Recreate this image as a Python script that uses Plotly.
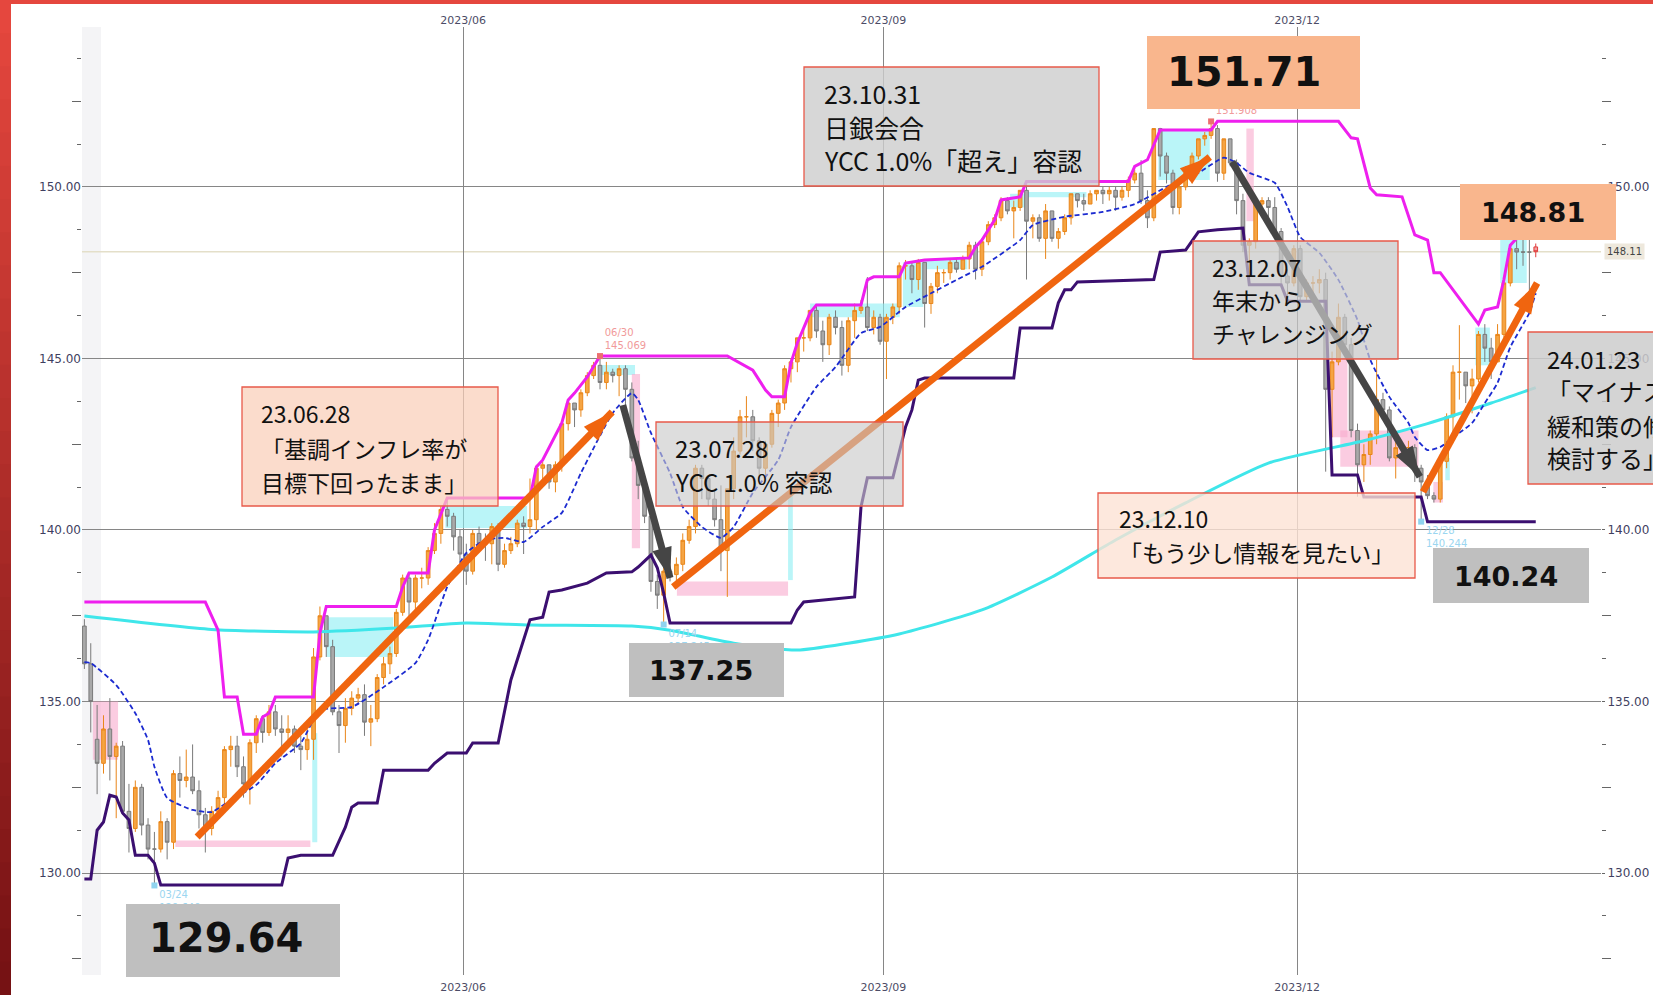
import pandas as pd
import plotly.graph_objects as go

# ======================= DATA =======================
dates = pd.bdate_range("2023-03-09", "2024-01-23").strftime("%Y-%m-%d").tolist()

opens = [
    # 2023-03
    137.20, 136.10, 133.90, 133.20, 134.20, 133.40, 133.70, 131.80, 131.30, 132.50, 131.40, 130.70, 130.70, 131.50, 130.90, 132.90, 132.70,
    # 2023-04
    132.80, 132.40, 131.70, 131.30, 131.80, 132.20, 133.60, 133.70, 133.10, 132.60, 133.80, 134.50, 134.10, 134.70, 134.20, 134.10, 134.20, 133.70, 133.60, 133.90,
    # 2023-05
    136.30, 137.50, 136.60, 134.70, 134.30, 134.80, 135.10, 135.20, 134.40, 134.50, 135.70, 136.10, 136.40, 137.60, 138.60, 137.90, 138.60, 138.60, 139.40, 139.90, 140.60, 140.40, 139.80,
    # 2023-06
    139.30, 138.80, 139.90, 139.60, 139.60, 140.10, 139.00, 139.40, 139.60, 140.20, 140.10, 140.30, 141.80, 141.90, 141.40, 141.90, 143.10, 143.70, 143.50, 144.00, 144.50, 144.80,
    # 2023-07
    144.30, 144.60, 144.50, 144.70, 144.10, 142.10, 141.30, 140.40, 138.50, 138.10, 138.80, 138.70, 139.00, 139.70, 140.10, 141.80, 141.50, 140.90, 140.30, 139.40, 141.20,
    # 2023-08
    142.30, 143.30, 143.30, 142.60, 141.80, 142.50, 143.40, 143.70, 144.70, 144.90, 145.60, 145.60, 146.40, 145.80, 145.40, 146.20, 145.90, 144.80, 146.10, 146.40, 146.50, 145.90, 146.20,
    # 2023-09
    145.50, 146.20, 146.50, 147.70, 147.70, 147.30, 147.80, 146.60, 147.10, 147.50, 147.50, 147.80, 147.60, 147.90, 148.30, 147.60, 148.40, 148.90, 149.10, 149.60, 149.30,
    # 2023-10
    149.40, 149.90, 149.00, 149.10, 148.50, 149.30, 148.50, 148.70, 149.10, 149.80, 149.60, 149.50, 149.80, 149.90, 149.80, 149.90, 149.70, 149.90, 150.20, 150.40, 149.60, 149.10,
    # 2023-11
    151.70, 150.90, 150.40, 149.40, 150.00, 150.40, 150.90, 151.40, 151.50, 151.70, 150.40, 151.40, 150.70, 149.60, 148.30, 148.40, 149.50, 149.60, 149.40, 148.70, 147.40, 147.20,
    # 2023-12
    148.20, 146.80, 147.20, 147.20, 147.30, 144.10, 144.90, 146.20, 145.40, 142.90, 141.90, 142.20, 142.80, 143.80, 143.50, 142.10, 142.40, 142.40, 142.40, 141.80, 141.40,
    # 2024-01
    141.00, 140.90, 142.00, 143.30, 144.60, 144.60, 144.20, 144.40, 145.70, 145.30, 144.90, 145.70, 147.20, 148.20, 148.10, 148.10, 148.25,
]
highs = [
    137.40, 136.70, 134.90, 134.60, 135.10, 133.80, 133.85, 132.60, 132.70, 132.60, 131.60, 131.20, 131.80, 131.60, 133.00, 133.40, 133.60,
    133.75, 132.70, 131.90, 131.95, 132.40, 133.70, 134.00, 134.00, 133.40, 133.90, 134.60, 134.60, 134.90, 134.90, 134.60, 134.60, 134.30, 134.00, 134.20, 136.56,
    137.77, 137.50, 136.80, 134.90, 135.10, 135.30, 135.40, 135.50, 134.90, 135.80, 136.30, 136.60, 137.70, 138.70, 138.75, 138.70, 138.90, 139.50, 140.20, 140.70, 140.93, 140.50, 140.00,
    139.60, 140.00, 140.10, 139.90, 140.20, 140.20, 139.60, 139.80, 140.30, 140.40, 141.50, 141.90, 142.00, 141.90, 142.00, 143.20, 143.80, 143.70, 144.10, 144.60, 144.90, 145.07,
    144.90, 144.70, 144.80, 144.80, 144.30, 142.60, 141.40, 140.50, 138.70, 139.00, 139.40, 139.20, 139.90, 140.30, 141.90, 141.90, 141.60, 141.20, 141.30, 141.20, 142.70,
    143.50, 143.90, 143.50, 142.70, 142.60, 143.50, 143.80, 144.80, 145.00, 145.60, 145.90, 146.40, 146.56, 146.10, 146.30, 146.40, 146.10, 146.20, 146.60, 146.70, 147.37, 146.40, 146.30,
    146.30, 146.60, 147.80, 147.87, 147.80, 147.90, 147.80, 147.20, 147.70, 147.60, 147.90, 147.90, 148.00, 148.40, 148.40, 148.50, 149.00, 149.20, 149.70, 149.70, 149.60,
    149.90, 150.16, 149.20, 149.20, 149.50, 149.30, 148.80, 149.20, 149.80, 149.80, 149.80, 149.90, 149.90, 150.00, 150.00, 150.00, 150.00, 150.30, 150.50, 150.78, 149.90, 151.70,
    151.72, 151.00, 150.50, 150.20, 150.60, 151.00, 151.40, 151.60, 151.91, 151.80, 151.40, 151.40, 150.80, 149.80, 148.50, 149.70, 149.70, 149.70, 149.70, 148.80, 147.60, 148.30,
    148.30, 147.30, 147.40, 147.60, 147.50, 145.20, 146.60, 146.30, 145.60, 143.10, 142.50, 142.90, 144.96, 144.00, 143.60, 142.80, 142.50, 142.60, 142.50, 141.90, 141.60,
    141.10, 142.20, 143.40, 144.80, 145.97, 144.60, 144.70, 145.80, 146.00, 145.60, 146.00, 147.30, 148.30, 148.50, 148.81, 148.70, 148.35,
]
lows = [
    135.95, 134.10, 132.30, 132.90, 132.70, 131.60, 131.70, 130.60, 131.20, 131.10, 130.40, 129.64, 130.60, 130.40, 130.70, 132.20, 132.50,
    132.30, 131.30, 130.60, 131.10, 131.60, 131.90, 133.10, 132.80, 132.20, 132.00, 133.50, 133.80, 134.00, 134.00, 133.40, 133.80, 133.50, 133.00, 133.30, 133.30,
    136.20, 136.30, 134.60, 133.50, 133.80, 134.60, 134.90, 134.00, 133.70, 134.40, 135.50, 135.80, 136.30, 137.50, 137.40, 137.70, 138.30, 138.40, 139.30, 139.60, 140.10, 139.40, 138.80,
    138.40, 138.70, 139.40, 139.10, 139.00, 138.80, 138.90, 139.30, 139.50, 139.30, 139.90, 140.00, 141.30, 141.20, 141.10, 141.70, 142.90, 143.00, 143.30, 143.90, 144.40, 144.10,
    144.10, 144.30, 143.90, 143.60, 142.00, 140.90, 140.20, 138.20, 137.70, 137.25, 138.50, 138.40, 138.80, 139.60, 139.90, 140.90, 140.70, 140.10, 138.80, 138.05, 140.90,
    142.20, 142.70, 142.30, 141.50, 141.50, 142.40, 143.00, 143.50, 144.30, 144.60, 145.20, 145.50, 145.60, 144.90, 145.10, 145.70, 144.50, 144.60, 145.60, 146.30, 145.80, 145.70, 145.40,
    144.40, 146.00, 146.30, 147.30, 146.90, 147.00, 145.90, 146.30, 146.90, 147.20, 147.30, 147.50, 147.60, 147.60, 147.30, 147.40, 148.30, 148.80, 149.00, 149.20, 148.50,
    149.30, 147.30, 148.50, 148.40, 147.90, 148.40, 148.20, 148.60, 148.90, 149.40, 149.30, 149.50, 149.60, 149.50, 149.60, 149.30, 149.60, 149.70, 150.10, 149.50, 148.80, 149.00,
    150.30, 150.10, 149.20, 149.20, 149.90, 150.10, 150.80, 151.20, 151.40, 150.15, 150.20, 150.60, 149.20, 148.10, 147.15, 148.20, 149.20, 149.10, 148.50, 147.20, 146.67, 147.10,
    146.70, 146.70, 146.70, 146.90, 141.70, 142.70, 144.80, 145.20, 142.70, 140.97, 141.40, 141.90, 142.50, 143.30, 142.00, 141.50, 142.20, 142.10, 141.40, 140.24, 140.90,
    140.80, 140.80, 141.80, 142.80, 143.80, 143.70, 143.40, 144.30, 144.90, 144.40, 144.90, 145.60, 147.10, 147.60, 147.70, 146.90, 147.95,
]
closes = [
    136.10, 135.00, 133.20, 134.20, 133.40, 133.70, 131.80, 131.30, 132.50, 131.40, 130.70, 130.70, 131.50, 130.90, 132.90, 132.70, 132.80,
    132.40, 131.70, 131.30, 131.80, 132.20, 133.60, 133.70, 133.10, 132.60, 133.80, 134.50, 134.10, 134.70, 134.20, 134.10, 134.20, 133.70, 133.60, 133.90, 136.30,
    137.50, 136.60, 134.70, 134.30, 134.80, 135.10, 135.20, 134.40, 134.50, 135.70, 136.10, 136.40, 137.60, 138.60, 137.90, 138.60, 138.60, 139.40, 139.90, 140.60, 140.40, 139.80, 139.30,
    138.80, 139.90, 139.60, 139.60, 140.10, 139.00, 139.40, 139.60, 140.20, 140.10, 140.30, 141.80, 141.90, 141.40, 141.90, 143.10, 143.70, 143.50, 144.00, 144.50, 144.80, 144.30,
    144.60, 144.50, 144.70, 144.10, 142.10, 141.30, 140.40, 138.50, 138.10, 138.80, 138.70, 139.00, 139.70, 140.10, 141.80, 141.50, 140.90, 140.30, 139.40, 141.20, 142.30,
    143.30, 143.30, 142.60, 141.80, 142.50, 143.40, 143.70, 144.70, 144.90, 145.60, 145.60, 146.40, 145.80, 145.40, 146.20, 145.90, 144.80, 146.10, 146.40, 146.50, 145.90, 146.20, 145.50,
    146.20, 146.50, 147.70, 147.70, 147.30, 147.80, 146.60, 147.10, 147.50, 147.50, 147.80, 147.60, 147.90, 148.30, 147.60, 148.40, 148.90, 149.10, 149.60, 149.30, 149.40,
    149.90, 149.00, 149.10, 148.50, 149.30, 148.50, 148.70, 149.10, 149.80, 149.60, 149.50, 149.80, 149.90, 149.80, 149.90, 149.70, 149.90, 150.20, 150.40, 149.60, 149.10, 151.70,
    150.90, 150.40, 149.40, 150.00, 150.40, 150.90, 151.40, 151.50, 151.70, 150.40, 151.40, 150.70, 149.60, 148.30, 148.40, 149.50, 149.60, 149.40, 148.70, 147.40, 147.20, 148.20,
    146.80, 147.20, 147.20, 147.30, 144.10, 144.90, 146.20, 145.40, 142.90, 141.90, 142.20, 142.80, 143.80, 143.50, 142.10, 142.40, 142.40, 142.40, 141.80, 141.40, 141.00,
    140.90, 142.00, 143.30, 144.60, 144.60, 144.20, 144.40, 145.70, 145.30, 144.90, 145.70, 147.20, 148.20, 148.10, 148.10, 148.10, 148.11,
]

# short moving average (blue dashed)
ma_fast_dates = ["2023-03-09", "2023-03-10", "2023-03-16", "2023-03-21", "2023-03-23", "2023-03-24", "2023-03-28", "2023-04-03", "2023-04-06",
                 "2023-04-11", "2023-04-17", "2023-04-20", "2023-04-26", "2023-05-01", "2023-05-08", "2023-05-15", "2023-05-22", "2023-05-24",
                 "2023-05-29", "2023-06-01", "2023-06-06", "2023-06-09", "2023-06-14", "2023-06-19", "2023-06-22", "2023-06-27", "2023-07-04",
                 "2023-07-07", "2023-07-10", "2023-07-12", "2023-07-17", "2023-07-19", "2023-07-24", "2023-07-27", "2023-07-31", "2023-08-03",
                 "2023-08-09", "2023-08-11", "2023-08-17", "2023-08-22", "2023-08-28", "2023-08-31", "2023-09-06", "2023-09-12", "2023-09-18",
                 "2023-09-22", "2023-10-02", "2023-10-04", "2023-10-11", "2023-10-19", "2023-10-26", "2023-11-02", "2023-11-09", "2023-11-15",
                 "2023-11-17", "2023-11-21", "2023-11-27", "2023-11-29", "2023-12-01", "2023-12-06", "2023-12-11", "2023-12-14", "2023-12-18",
                 "2023-12-21", "2023-12-26", "2023-12-27", "2023-12-29", "2024-01-02", "2024-01-05", "2024-01-09", "2024-01-11", "2024-01-15",
                 "2024-01-17", "2024-01-22", "2024-01-23"]
ma_fast_vals = [136.15, 136.12, 135.48, 134.66, 133.88, 133.10, 132.19, 131.84, 131.78,
                132.13, 132.57, 133.20, 133.79, 134.75, 134.84, 135.42, 136.12, 136.80,
                138.34, 139.33, 139.71, 139.77, 139.65, 140.09, 140.50, 141.66, 143.41,
                143.99, 143.79, 142.83, 141.66, 140.67, 140.09, 139.77, 140.09, 141.08,
                142.04, 143.00, 144.17, 144.75, 145.74, 145.92, 146.50, 146.90, 147.29,
                147.67, 148.45, 148.89, 149.13, 149.27, 149.50, 150.00, 150.41, 150.85,
                150.70, 150.41, 150.12, 149.42, 148.54, 148.08, 147.29, 146.12, 144.96,
                143.88, 143.12, 142.71, 142.33, 142.42, 142.83, 143.12, 143.70, 144.29,
                145.33, 146.33, 146.90]

# long moving average (cyan)
ma_long_dates = ["2023-03-09", "2023-04-06", "2023-04-28", "2023-05-17", "2023-06-01", "2023-06-15", "2023-07-07", "2023-07-17",
                 "2023-07-31", "2023-08-14", "2023-08-24", "2023-09-05", "2023-09-22", "2023-10-09", "2023-10-23", "2023-11-07",
                 "2023-11-24", "2023-12-15", "2023-12-29", "2024-01-12", "2024-01-23"]
ma_long_vals = [137.49, 137.10, 137.03, 137.14, 137.29, 137.23, 137.20, 137.08,
                136.70, 136.50, 136.70, 136.97, 137.67, 138.63, 139.71, 140.79,
                141.95, 142.60, 143.10, 143.70, 144.15]

# channel upper line (magenta)
upper_dates = ["2023-03-09", "2023-04-05", "2023-04-07", "2023-04-10", "2023-04-12", "2023-04-13", "2023-04-17", "2023-04-18",
               "2023-04-19", "2023-04-20", "2023-04-28", "2023-05-01", "2023-05-02", "2023-05-17", "2023-05-18", "2023-05-19",
               "2023-05-24", "2023-05-25", "2023-05-29", "2023-06-15", "2023-06-16", "2023-06-19", "2023-06-22", "2023-06-23",
               "2023-06-26", "2023-06-28", "2023-06-30", "2023-07-28", "2023-08-03", "2023-08-07", "2023-08-08", "2023-08-10",
               "2023-08-11", "2023-08-14", "2023-08-16", "2023-08-17", "2023-08-28", "2023-08-29", "2023-08-30", "2023-09-05",
               "2023-09-06", "2023-09-11", "2023-09-20", "2023-09-21", "2023-09-22", "2023-09-26", "2023-09-27", "2023-10-02",
               "2023-10-03", "2023-10-25", "2023-10-26", "2023-10-30", "2023-11-01", "2023-11-13", "2023-11-14", "2023-12-11",
               "2023-12-13", "2023-12-14", "2023-12-18", "2023-12-19", "2023-12-25", "2023-12-27", "2023-12-29", "2024-01-01",
               "2024-01-02", "2024-01-08", "2024-01-10", "2024-01-11", "2024-01-15", "2024-01-16", "2024-01-17", "2024-01-18",
               "2024-01-19", "2024-01-23"]
upper_vals = [137.90, 137.90, 137.08, 135.13, 135.13, 134.05, 134.05, 134.55,
              134.66, 135.13, 135.13, 137.00, 137.77, 137.77, 138.34, 138.75,
              138.75, 140.00, 140.93, 140.93, 141.84, 142.04, 143.12, 143.79,
              143.99, 144.46, 145.07, 145.07, 144.66, 144.08, 143.88, 143.88,
              144.87, 145.45, 146.33, 146.56, 146.56, 147.29, 147.38, 147.38,
              147.78, 147.87, 147.93, 148.25, 148.45, 149.04, 149.62, 149.71,
              150.16, 150.16, 150.60, 150.79, 151.66, 151.66, 151.91, 151.91,
              151.43, 151.40, 149.97, 149.77, 149.71, 148.60, 148.45, 147.50,
              147.50, 146.50, 146.00, 146.41, 146.50, 147.30, 148.30, 148.50,
              148.81, 148.81]

# channel lower line (dark purple)
lower_dates = ["2023-03-09", "2023-03-10", "2023-03-13", "2023-03-14", "2023-03-15", "2023-03-16", "2023-03-17", "2023-03-20",
               "2023-03-21", "2023-03-23", "2023-03-24", "2023-03-27", "2023-04-21", "2023-04-24", "2023-04-26", "2023-05-03",
               "2023-05-05", "2023-05-08", "2023-05-09", "2023-05-12", "2023-05-15", "2023-05-24", "2023-05-25", "2023-05-29",
               "2023-06-01", "2023-06-02", "2023-06-08", "2023-06-09", "2023-06-12", "2023-06-15", "2023-06-19", "2023-06-20",
               "2023-06-22", "2023-06-28", "2023-07-03", "2023-07-07", "2023-07-10", "2023-07-12", "2023-07-13", "2023-07-14",
               "2023-07-17", "2023-08-11", "2023-08-14", "2023-08-15", "2023-08-25", "2023-08-28", "2023-08-29", "2023-09-04",
               "2023-09-06", "2023-09-07", "2023-09-08", "2023-09-11", "2023-09-29", "2023-10-02", "2023-10-09", "2023-10-10",
               "2023-10-11", "2023-10-12", "2023-10-13", "2023-10-31", "2023-11-01", "2023-11-07", "2023-11-09", "2023-11-14",
               "2023-11-20", "2023-11-21", "2023-11-28", "2023-11-29", "2023-12-07", "2023-12-08", "2023-12-14", "2023-12-15",
               "2023-12-28", "2023-12-29", "2024-01-23"]
lower_vals = [129.83, 129.83, 131.25, 131.49, 132.27, 132.22, 131.75, 131.55,
              130.52, 130.52, 130.29, 129.65, 129.65, 130.44, 130.52, 130.52,
              131.34, 131.92, 132.04, 132.04, 133.00, 133.00, 133.20, 133.50,
              133.50, 133.79, 133.79, 134.75, 135.63, 137.38, 137.46, 138.19,
              138.25, 138.45, 138.75, 138.78, 138.92, 139.27, 138.90, 138.16,
              137.29, 137.29, 137.67, 137.90, 138.05, 140.67, 141.52, 141.52,
              143.00, 143.50, 144.37, 144.43, 144.43, 145.89, 145.89, 146.62,
              147.00, 147.00, 147.23, 147.30, 148.10, 148.16, 148.69, 148.75,
              148.80, 147.15, 147.15, 146.67, 146.67, 141.60, 141.60, 140.96,
              140.96, 140.24, 140.24]

# shaded range boxes of the indicator
zone_kind = ["pink", "pink", "cyan", "cyan", "cyan", "cyan", "pink", "pink", "cyan", "cyan", "cyan",
             "cyan", "cyan", "cyan", "cyan", "pink", "pink", "pink", "pink", "cyan", "cyan", "cyan"]
zone_start = ["2023-03-10 20:00", "2023-03-29 19:00", "2023-04-28 07:00", "2023-05-02 14:00", "2023-05-29 05:00",
              "2023-06-30 12:00", "2023-07-07 12:00", "2023-07-18 14:00", "2023-08-11 01:00", "2023-08-16 12:00",
              "2023-09-06 02:00", "2023-09-11 07:00", "2023-09-28 22:00", "2023-10-03 14:00", "2023-11-01 05:00",
              "2023-11-21 01:00", "2023-12-08 05:00", "2023-12-11 19:00", "2024-01-01 10:00", "2024-01-03 07:00",
              "2024-01-10 00:00", "2024-01-15 22:00"]
zone_end = ["2023-03-16 19:00", "2023-04-28 00:00", "2023-05-01 02:00", "2023-05-17 00:00", "2023-06-15 01:00",
            "2023-07-10 00:00", "2023-07-10 19:00", "2023-08-11 01:00", "2023-08-11 19:00", "2023-09-05 14:00",
            "2023-09-11 07:00", "2023-09-20 05:00", "2023-10-03 14:00", "2023-10-16 22:00", "2023-11-13 07:00",
            "2023-11-22 05:00", "2023-12-12 22:00", "2023-12-28 02:00", "2024-01-02 22:00", "2024-01-04 00:00",
            "2024-01-12 07:00", "2024-01-22 02:00"]
zone_low = [133.30, 130.76, 130.90, 136.30, 140.06, 144.52, 139.47, 138.08, 138.54, 146.20, 146.50,
            147.60, 149.40, 149.70, 150.20, 149.00, 142.70, 141.84, 140.80, 141.45, 144.80, 147.20]
zone_high = [135.00, 130.95, 134.08, 137.46, 140.70, 144.81, 144.55, 138.50, 141.00, 146.60, 147.80,
             147.90, 149.80, 149.85, 151.66, 151.70, 145.00, 142.90, 141.40, 142.10, 145.90, 148.45]

# marked highs / lows
peak_dates = ["2023-06-30", "2023-11-13"]
peak_vals = [145.069, 151.908]
trough_dates = ["2023-03-24", "2023-07-14", "2023-12-28"]
trough_vals = [129.640, 137.245, 140.244]

# trend arrows drawn on the chart
arrow_kind = ["up", "down", "up", "down", "up"]
arrow_from_t = ["2023-04-04 05:00", "2023-07-06 02:00", "2023-07-18 00:00", "2023-11-16 19:00", "2023-12-28 19:00"]
arrow_from_v = [131.05, 143.64, 138.34, 150.73, 141.11]
arrow_to_t = ["2023-07-04 10:00", "2023-07-17 12:00", "2023-11-13 07:00", "2023-12-28 07:00", "2024-01-23 17:00"]
arrow_to_v = [143.44, 138.60, 150.87, 141.55, 147.20]

# callout numbers
callout_vals = [129.64, 137.25, 151.71, 140.24, 148.81]

# event notes
note_1 = ["23.06.28", "「基調インフレ率が", "目標下回ったまま」"]
note_2 = ["23.07.28", "YCC 1.0% 容認"]
note_3 = ["23.10.31", "日銀会合", "YCC 1.0%「超え」容認"]
note_4 = ["23.12.07", "年末から", "チャレンジング"]
note_5 = ["24.01.23", "「マイナス金利", "緩和策の修正", "検討する」"]
note_6 = ["23.12.10", "「もう少し情報を見たい」"]

# axis ticks
y_ticks = [130, 135, 140, 145, 150]
y_mid_ticks = [127.5, 132.5, 137.5, 142.5, 147.5, 152.5]
y_small_ticks = [128.75, 131.25, 133.75, 136.25, 138.75, 141.25, 143.75, 146.25, 148.75, 151.25, 153.75]
x_ticks = ["2023-06-01", "2023-09-01", "2023-12-01"]
x_tick_labels = ["2023/06", "2023/09", "2023/12"]

# ======================= FIGURE =======================
W, H = 1653, 995
ML, MR, MT, MB = 82, 52, 27, 20
PW, PH = W - ML - MR, H - MT - MB


def px_x(p):
    return (p - ML) / PW


def px_y(p):
    return (H - MB - p) / PH


def mid(d):
    return d + " 12:00"


JP = "Noto Sans CJK JP"
NUMF = "DejaVu Sans"

fig = go.Figure(layout=dict(template="none"))

# long MA
fig.add_trace(go.Scatter(x=[mid(d) for d in ma_long_dates], y=ma_long_vals, mode="lines",
                         line=dict(color="#3fe6ea", width=3, shape="spline", smoothing=0.6),
                         hoverinfo="skip"))

# candles
cx = [mid(d) for d in dates]
fig.add_trace(go.Candlestick(
    x=cx[:-1], open=opens[:-1], high=highs[:-1], low=lows[:-1], close=closes[:-1],
    increasing=dict(line=dict(color="#e9861a", width=1), fillcolor="#f5a443"),
    decreasing=dict(line=dict(color="#7a7a7a", width=1), fillcolor="#a9a9a9"),
    whiskerwidth=0, hoverinfo="skip"))
fig.add_trace(go.Candlestick(
    x=cx[-1:], open=opens[-1:], high=highs[-1:], low=lows[-1:], close=closes[-1:],
    increasing=dict(line=dict(color="#e03b3b", width=1), fillcolor="#f2a0a0"),
    decreasing=dict(line=dict(color="#e03b3b", width=1), fillcolor="#f2a0a0"),
    whiskerwidth=0, hoverinfo="skip"))

# channel lines
fig.add_trace(go.Scatter(x=[mid(d) for d in upper_dates], y=upper_vals, mode="lines",
                         line=dict(color="#ee1fee", width=3), hoverinfo="skip"))
fig.add_trace(go.Scatter(x=[mid(d) for d in lower_dates], y=lower_vals, mode="lines",
                         line=dict(color="#3b0f70", width=3), hoverinfo="skip"))
# short MA
fig.add_trace(go.Scatter(x=[mid(d) for d in ma_fast_dates], y=ma_fast_vals, mode="lines",
                         line=dict(color="#1c2bd0", width=1.8, dash="5px,3px", shape="spline", smoothing=0.5),
                         hoverinfo="skip"))

# high / low markers with their labels (drawn as traces so boxes can cover them)
fig.add_trace(go.Scatter(x=[mid(d) for d in peak_dates], y=peak_vals, mode="markers+text",
                         marker=dict(symbol="square", size=6, color="#ec7070"),
                         text=[f"{d[5:7]}/{d[8:10]}<br>{v:.3f}" for d, v in zip(peak_dates, peak_vals)],
                         textposition="top right", textfont=dict(family=NUMF, size=10, color="#f19a9a"),
                         hoverinfo="skip"))
fig.add_trace(go.Scatter(x=[mid(d) for d in trough_dates], y=trough_vals, mode="markers+text",
                         marker=dict(symbol="square", size=6, color="#8fd3ef"),
                         text=[f"{d[5:7]}/{d[8:10]}<br>{v:.3f}" for d, v in zip(trough_dates, trough_vals)],
                         textposition="bottom right", textfont=dict(family=NUMF, size=10, color="#9bd6f0"),
                         hoverinfo="skip"))

# arrows: shaft as a line, head as a rotated arrow marker on the end point
for k, t0, v0, t1, v1 in zip(arrow_kind, arrow_from_t, arrow_from_v, arrow_to_t, arrow_to_v):
    col = "#f0650f" if k == "up" else "#454545"
    fig.add_trace(go.Scatter(x=[t0, t1], y=[v0, v1], mode="lines",
                             line=dict(color=col, width=7, backoff=14),
                             hoverinfo="skip"))
    fig.add_trace(go.Scatter(x=[t0, t1], y=[v0, v1], mode="markers",
                             marker=dict(symbol="arrow", size=[0, 32], angleref="previous",
                                         color=col, opacity=1, line=dict(width=0, color=col)),
                             hoverinfo="skip"))

# dummy invisible traces to anchor the overlay axes
for xa, ya in [("x2", "y2"), ("x", "y3"), ("x", "y4")]:
    fig.add_trace(go.Scatter(x=[cx[0]], y=[closes[0]], xaxis=xa, yaxis=ya, mode="markers",
                             marker=dict(opacity=0), hoverinfo="skip"))

# ---------------- shapes ----------------
fig.add_shape(type="rect", xref="paper", yref="paper", x0=0, x1=px_x(101), y0=0, y1=1,
              fillcolor="#f4f4f6", line_width=0, layer="below")

fig.add_shape(type="line", xref="paper", yref="y", x0=0, x1=1, y0=closes[-1], y1=closes[-1],
              line=dict(color="#e4dfc9", width=1.5), layer="between")

for k, s, e, lo, hi in zip(zone_kind, zone_start, zone_end, zone_low, zone_high):
    fill = "rgba(248,170,205,0.6)" if k == "pink" else "rgba(140,238,244,0.6)"
    fig.add_shape(type="rect", xref="x", yref="y", x0=s, x1=e, y0=lo, y1=hi,
                  fillcolor=fill, line_width=0, layer="between")

RED = "#e8594a"
boxes = [
    (242, 498, 387, 506, "rgba(250,206,185,0.72)", RED),
    (656, 903, 422, 506, "rgba(200,200,200,0.62)", RED),
    (804, 1099, 67, 186, "rgba(205,205,205,0.8)", RED),
    (1147, 1360, 36, 109, "#f9b68d", None),
    (1193, 1398, 241, 359, "rgba(200,200,200,0.72)", RED),
    (1460, 1616, 184, 240, "#f9b68d", None),
    (1528, 1720, 332, 484, "rgba(205,205,205,0.85)", RED),
    (1098, 1415, 493, 578, "rgba(252,226,212,0.8)", RED),
    (1433, 1589, 548, 603, "#bfbfbf", None),
    (629, 784, 643, 697, "#bfbfbf", None),
    (126, 340, 904, 977, "#bfbfbf", None),
]
for x0, x1, y0, y1, fill, border in boxes:
    fig.add_shape(type="rect", xref="paper", yref="paper", x0=px_x(x0), x1=px_x(x1),
                  y0=px_y(y1), y1=px_y(y0), fillcolor=fill,
                  line=dict(color=border or "rgba(0,0,0,0)", width=1.3 if border else 0), layer="above")

# red frame
fig.add_shape(type="rect", xref="paper", yref="paper", x0=px_x(0), x1=px_x(W), y0=px_y(4), y1=px_y(0),
              fillcolor="#e5473e", line_width=0, layer="above")
NSEG = 30
for k in range(NSEG):
    f = k / (NSEG - 1)
    r = int(229 + (118 - 229) * f)
    g = int(71 + (18 - 71) * f)
    b = int(62 + (20 - 62) * f)
    ya, yb = k * H / NSEG, (k + 1) * H / NSEG + 1
    fig.add_shape(type="rect", xref="paper", yref="paper", x0=px_x(0), x1=px_x(11),
                  y0=px_y(yb), y1=px_y(ya), fillcolor=f"rgb({r},{g},{b})", line_width=0, layer="above")


# ---------------- note texts ----------------
def add_lines(xp, rows, size):
    for yp, txt in rows:
        fig.add_annotation(xref="paper", yref="paper", x=px_x(xp), y=px_y(yp), text=txt,
                           showarrow=False, xanchor="left", yanchor="middle",
                           font=dict(family=JP, size=size, color="#111111"))


add_lines(259, list(zip([413, 448, 482], note_1)), 23)
add_lines(673, list(zip([448, 482], note_2)), 24)
add_lines(822, list(zip([93, 127, 160], note_3)), 25)
add_lines(1210, list(zip([267, 300, 333], note_4)), 23)
add_lines(1545, list(zip([358, 390, 425, 457], note_5)), 24)
add_lines(1117, list(zip([518, 552], note_6)), 23)

callout_pos = [(147, 938, 40), (647, 670, 27), (1165, 72, 40), (1452, 576, 27), (1479, 212, 27)]
for v, (xp, yp, sz) in zip(callout_vals, callout_pos):
    fig.add_annotation(xref="paper", yref="paper", x=px_x(xp), y=px_y(yp), text=f"<b>{v:.2f}</b>",
                       showarrow=False, xanchor="left", yanchor="middle",
                       font=dict(family=NUMF, size=sz, color="#111111"))

fig.add_annotation(xref="paper", yref="y", x=1, y=closes[-1], text=f"{closes[-1]:.2f}",
                   showarrow=False, xanchor="left", yanchor="middle", xshift=3,
                   bgcolor="#eee8dc", borderpad=2, font=dict(family=NUMF, size=10, color="#444444"))

# ---------------- axes ----------------
x_start, x_end = "2023-03-09 03:00", "2024-02-06 18:00"
TICKFONT_X = dict(family=NUMF, size=11, color="#4c4c66")
TICKFONT_Y = dict(family=NUMF, size=12, color="#3f3f5f")
xcommon = dict(type="date", range=[x_start, x_end], rangebreaks=[dict(bounds=["sat", "mon"])],
               tickmode="array", tickvals=x_ticks, ticktext=x_tick_labels, ticks="",
               tickfont=TICKFONT_X, showline=False, zeroline=False, automargin=False,
               rangeslider=dict(visible=False))
ycommon = dict(range=[127.03, 154.66], showline=False, zeroline=False, automargin=False,
               tickmode="array")
ylabels = [f"{v:.2f}" for v in y_ticks]
minor_y = dict(tickmode="array", tickvals=y_small_ticks, ticks="outside", ticklen=4,
               tickcolor="#666666", showgrid=False)

fig.update_layout(
    width=W, height=H,
    margin=dict(l=ML, r=MR, t=MT, b=MB, autoexpand=False),
    paper_bgcolor="white", plot_bgcolor="white",
    showlegend=False, hovermode=False, boxgap=0.18,
    font=dict(family=NUMF, size=11, color="#444444"),
    xaxis=dict(**xcommon, showgrid=True, gridcolor="#868686", gridwidth=1, side="bottom", anchor="y",
               ticklabelstandoff=4),
    xaxis2=dict(**xcommon, showgrid=False, side="top", overlaying="x", anchor="y"),
    yaxis=dict(**ycommon, tickvals=y_ticks, ticktext=ylabels, ticks="", showgrid=True,
               gridcolor="#868686", gridwidth=1, tickfont=TICKFONT_Y, minor=minor_y,
               side="left", anchor="x"),
    yaxis2=dict(**ycommon, tickvals=y_ticks, ticktext=ylabels, ticks="outside", ticklen=3,
                tickcolor="#666666", showgrid=False, tickfont=TICKFONT_Y, minor=minor_y,
                side="right", overlaying="y", anchor="x"),
    yaxis3=dict(**ycommon, tickvals=y_mid_ticks, ticks="outside", ticklen=9, tickcolor="#666666",
                showticklabels=False, showgrid=False, side="left", overlaying="y", anchor="x"),
    yaxis4=dict(**ycommon, tickvals=y_mid_ticks, ticks="outside", ticklen=9, tickcolor="#666666",
                showticklabels=False, showgrid=False, side="right", overlaying="y", anchor="x"),
)

fig.write_html("out.html", config={"displayModeBar": False},
               post_script="document.body.style.margin='0px';document.body.style.overflow='hidden';")
